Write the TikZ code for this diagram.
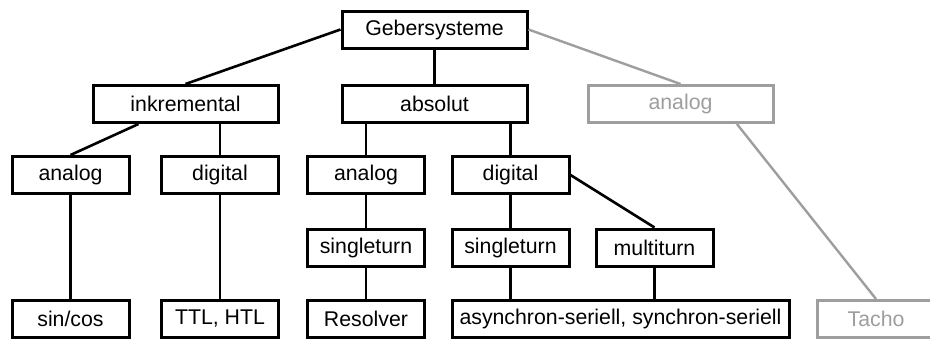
\documentclass[tikz,border=0pt]{standalone}
\usepackage{fontspec}
\setmainfont{Liberation Sans}
\usetikzlibrary{calc}
\definecolor{muted}{RGB}{158,158,158}
\begin{document}
\begin{tikzpicture}[x=1pt,y=-1pt,
  box/.style={draw=black,line width=3pt,fill=white,inner sep=0pt,
    minimum width=117pt,minimum height=37pt,
    font=\fontsize{21.3}{25}\selectfont,text=black},
  widebox/.style={box,minimum width=185pt},
  mutedbox/.style={draw=muted,text=muted},
  link/.style={draw=black,line width=2.6pt},
  mutedlink/.style={draw=muted,line width=2.4pt}]
\useasboundingbox (0,0) rectangle (930,338);

% level 0 and 1
\node[widebox] (geber) at (434.5,29.5) {Gebersysteme};
\node[widebox] (inkr) at (185.5,104) {inkremental};
\node[widebox] (abs) at (434.5,104) {absolut};
\node[widebox,mutedbox] (analogG) at (680.5,104) {analog};

% level 2
\node[box] (analogL) at (70.5,175) {analog};
\node[box] (digL) at (220,175) {digital};
\node[box] (analogM) at (366,175) {analog};
\node[box] (digM) at (510.5,175) {digital};

% level 3
\node[box] (singleM) at (366,247.5) {singleturn};
\node[box] (singleR) at (510.5,247.5) {singleturn};
\node[box] (multi) at (654.5,247.5) {multiturn};

% level 4
\node[box] (sincos) at (70.5,319) {sin/cos};
\node[box] (ttl) at (220,319) {TTL, HTL};
\node[box] (resolver) at (366,319) {Resolver};
\node[box,minimum width=337pt] (async) at (620.5,319) {asynchron-seriell, synchron-seriell};
\node[box,mutedbox] (tacho) at (876,319) {Tacho};

% links between the boxes
\draw[link] (geber.west) -- (inkr.north);
\draw[link] (geber.south) -- (abs.north);
\draw[mutedlink] (geber.east) -- (analogG.north);
\draw[link] ($(inkr.south west)!0.25!(inkr.south east)$) -- (analogL.north);
\draw[link] (digL.north |- inkr.south) -- (digL.north);
\draw[link] (analogM.north |- abs.south) -- (analogM.north);
\draw[link] (digM.north |- abs.south) -- (digM.north);
\draw[mutedlink] ($(analogG.south west)!0.8!(analogG.south east)$) -- (tacho.north);
\draw[link] (analogL.south) -- (sincos.north);
\draw[link] (digL.south) -- (ttl.north);
\draw[link] (analogM.south) -- (singleM.north);
\draw[link] (singleM.south) -- (resolver.north);
\draw[link] (digM.south) -- (singleR.north);
\draw[link] (singleR.south) -- (singleR.south |- async.north);
\draw[link] (digM.east) -- (multi.north);
\draw[link] (multi.south) -- (multi.south |- async.north);
\end{tikzpicture}
\end{document}
